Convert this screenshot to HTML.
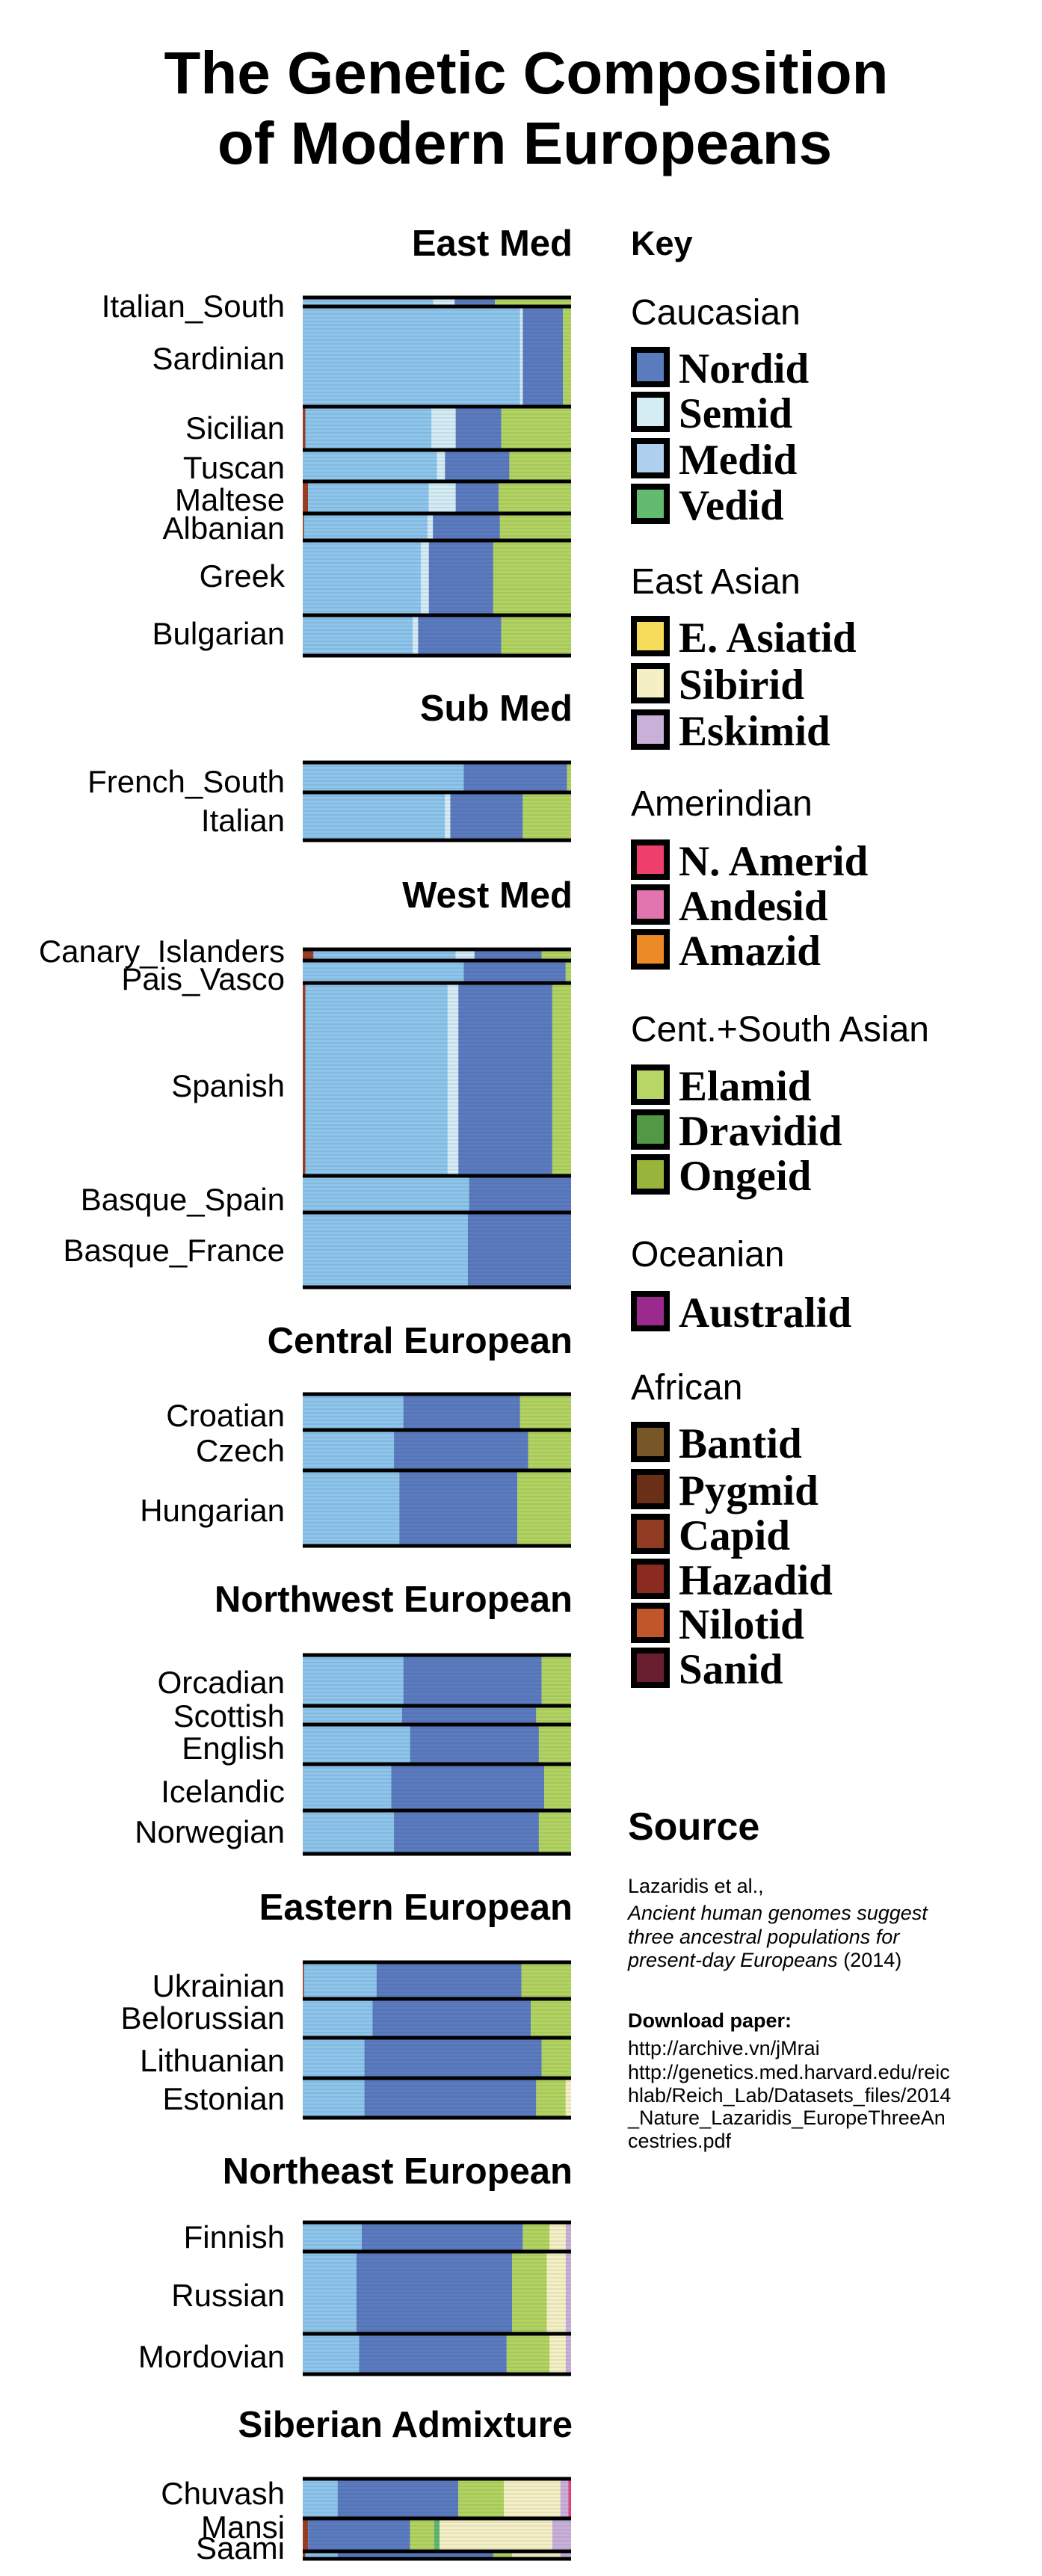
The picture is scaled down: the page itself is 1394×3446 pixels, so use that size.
<!DOCTYPE html>
<html><head><meta charset="utf-8">
<style>
html,body{margin:0;padding:0;background:#fff;}
svg{display:block;}
.t{font-family:"Liberation Sans",sans-serif;}
.k{font-family:"Liberation Serif",serif;font-weight:bold;font-size:57px;}
</style></head>
<body>
<svg id="chart" width="1394" height="3446" viewBox="0 0 1394 3446" xmlns="http://www.w3.org/2000/svg">
<rect x="0" y="0" width="1394" height="3446" fill="#fff"/>
<g class="t" font-weight="bold" font-size="80" text-anchor="middle">
<text x="704" y="125">The Genetic Composition</text>
<text x="702" y="219">of Modern Europeans</text>
</g>
<g class="t" font-weight="bold" font-size="49" text-anchor="end">
<text x="766" y="342">East Med</text>
<text x="766" y="964">Sub Med</text>
<text x="766" y="1214">West Med</text>
<text x="766" y="1810">Central European</text>
<text x="766" y="2156">Northwest European</text>
<text x="766" y="2568">Eastern European</text>
<text x="766" y="2921">Northeast European</text>
<text x="766" y="3260">Siberian Admixture</text>
</g>
<g id="bars"></g>
<g id="labels" class="t" font-size="42" text-anchor="end"></g>

<g>
<text class="t" x="844" y="341" font-weight="bold" font-size="45">Key</text>
<g class="t" font-size="48">
<text x="844" y="434">Caucasian</text>
<text x="844" y="794">East Asian</text>
<text x="844" y="1091">Amerindian</text>
<text x="844" y="1393">Cent.+South Asian</text>
<text x="844" y="1694">Oceanian</text>
<text x="844" y="1872">African</text>
</g>
<g id="legend-entries"></g>
</g>

<g class="t">
<text x="840" y="2461" font-weight="bold" font-size="52">Source</text>
<g font-size="27">
<text x="840" y="2532">Lazaridis et al.,</text>
<text x="840" y="2568" font-style="italic">Ancient human genomes suggest</text>
<text x="840" y="2600" font-style="italic">three ancestral populations for</text>
<text x="840" y="2631"><tspan font-style="italic">present-day Europeans</tspan> (2014)</text>
<text x="840" y="2712" font-weight="bold">Download paper:</text>
<text x="840" y="2749">http://archive.vn/jMrai</text>
<text x="840" y="2781">http://genetics.med.harvard.edu/reic</text>
<text x="840" y="2812">hlab/Reich_Lab/Datasets_files/2014</text>
<text x="840" y="2842">_Nature_Lazaridis_EuropeThreeAn</text>
<text x="840" y="2873">cestries.pdf</text>
</g>
</g>
</svg>
<script>
// ---- data ----
const popNames = ["Italian_South","Sardinian","Sicilian","Tuscan","Maltese","Albanian","Greek","Bulgarian",
"French_South","Italian","Canary_Islanders","Pais_Vasco","Spanish","Basque_Spain","Basque_France",
"Croatian","Czech","Hungarian","Orcadian","Scottish","English","Icelandic","Norwegian",
"Ukrainian","Belorussian","Lithuanian","Estonian","Finnish","Russian","Mordovian","Chuvash","Mansi","Saami"];
const african = [0,0,0.01,0,0.02,0.005,0,0, 0,0,0.04,0,0.01,0,0, 0,0,0,0,0,0,0,0, 0.005,0,0,0,0,0,0,0,0.02,0.01];
const medid   = [0.486,0.81,0.47,0.5,0.45,0.46,0.44,0.41, 0.6,0.53,0.53,0.6,0.53,0.62,0.615, 0.375,0.34,0.36,0.375,0.37,0.4,0.33,0.34, 0.27,0.26,0.23,0.23,0.22,0.2,0.21,0.13,0,0.12];
const semid   = [0.08,0.01,0.09,0.03,0.1,0.02,0.03,0.02, 0,0.02,0.07,0,0.04,0,0, 0,0,0,0,0,0,0,0, 0,0,0,0,0,0,0,0,0,0];
const nordid  = [0.15,0.15,0.17,0.24,0.16,0.25,0.24,0.31, 0.385,0.27,0.25,0.38,0.35,0.38,0.385, 0.435,0.5,0.44,0.515,0.5,0.48,0.57,0.54, 0.54,0.59,0.66,0.64,0.6,0.58,0.55,0.45,0.38,0.58];
const elamid  = [0.284,0.03,0.26,0.23,0.27,0.265,0.29,0.26, 0.015,0.18,0.11,0.02,0.07,0,0, 0.19,0.16,0.2,0.11,0.13,0.12,0.1,0.12, 0.185,0.15,0.11,0.11,0.1,0.13,0.16,0.17,0.09,0.07];
const vedid   = [0,0,0,0,0,0,0,0, 0,0,0,0,0,0,0, 0,0,0,0,0,0,0,0, 0,0,0,0,0,0,0,0,0.02,0];
const sibirid = [0,0,0,0,0,0,0,0, 0,0,0,0,0,0,0, 0,0,0,0,0,0,0,0, 0,0,0,0.02,0.06,0.07,0.06,0.21,0.42,0.18];
const eskimid = [0,0,0,0,0,0,0,0, 0,0,0,0,0,0,0, 0,0,0,0,0,0,0,0, 0,0,0,0,0.02,0.02,0.02,0.03,0.07,0.04];
const amerind = [0,0,0,0,0,0,0,0, 0,0,0,0,0,0,0, 0,0,0,0,0,0,0,0, 0,0,0,0,0,0,0,0.01,0,0];
// ---- layout (pixel rows of each population block, label baselines) ----
const layTop = [398,410,544,602,644,687,723,823, 1020,1060, 1270,1285,1315,1573,1622, 1865,1913,1967, 2214,2282,2307,2360,2422, 2625,2674,2726,2780, 2973,3012,3122, 3316,3369,3413];
const layBot = [410,544,602,644,687,723,823,877, 1060,1124, 1285,1315,1573,1622,1722, 1913,1967,2068, 2282,2307,2360,2422,2480, 2674,2726,2780,2833, 3012,3122,3176, 3369,3413,3423];
const layLab = [424,494,587,640,683,721,785,862, 1060,1112, 1287,1324,1467,1619,1687, 1908,1955,2035, 2265,2310,2353,2411,2465, 2671,2714,2771,2822, 3007,3085,3167, 3350,3395,3423];

const X0 = 405, X1 = 764;
const xs = v => X0 + v * (X1 - X0);
const NS = "http://www.w3.org/2000/svg";
const series = [
  ["african", african, "#9a3d22"],
  ["medid", medid, "#8ec5ea"],
  ["semid", semid, "#d4ecf4"],
  ["nordid", nordid, "#5b7bbf"],
  ["elamid", elamid, "#b2d35f"],
  ["vedid", vedid, "#5fb870"],
  ["sibirid", sibirid, "#f5f0c4"],
  ["eskimid", eskimid, "#c8b0d8"],
  ["amerind", amerind, "#e6407a"]
];
const bars = document.getElementById("bars");
const labels = document.getElementById("labels");
popNames.forEach((name, i) => {
  const g = document.createElementNS(NS, "g");
  
  
  const y0 = layTop[i], y1 = layBot[i];
  let total = 0;
  series.forEach(s => total += s[1][i]);
  let acc = 0;
  series.forEach((s, j) => {
    const v = s[1][i] / total;
    const isLast = j === series.length - 1;
    if (v <= 0 && !isLast) return;
    const r = document.createElementNS(NS, "rect");
    
    
    r.setAttribute("x", xs(acc));
    r.setAttribute("y", y0);
    r.setAttribute("width", Math.max(0, xs(acc + v) - xs(acc)));
    r.setAttribute("height", y1 - y0);
    r.setAttribute("fill", s[2]);
    g.appendChild(r);
    acc += v;
  });
  // thin row separators
  for (let y = y0 + 5; y < y1 - 2; y += 5) {
    const l = document.createElementNS(NS, "line");
    
    
    l.setAttribute("x1", X0); l.setAttribute("x2", X1);
    l.setAttribute("y1", y); l.setAttribute("y2", y);
    l.setAttribute("stroke", "rgba(30,50,90,0.22)");
    l.setAttribute("stroke-width", "0.7");
    g.appendChild(l);
  }
  bars.appendChild(g);
  [y0, y1].forEach(yy => {
    const b = document.createElementNS(NS, "rect");
    
    
    b.setAttribute("x", X0); b.setAttribute("y", yy - 2.5);
    b.setAttribute("width", X1 - X0); b.setAttribute("height", 5);
    b.setAttribute("fill", "#000");
    bars.appendChild(b);
  });
  const t = document.createElementNS(NS, "text");
  
  
  t.setAttribute("x", 381);
  t.setAttribute("y", layLab[i]);
  t.textContent = name;
  labels.appendChild(t);
});

// legend entries
const legNames = ["Nordid","Semid","Medid","Vedid","E. Asiatid","Sibirid","Eskimid","N. Amerid","Andesid","Amazid","Elamid","Dravidid","Ongeid","Australid","Bantid","Pygmid","Capid","Hazadid","Nilotid","Sanid"];
const legColors = ["#5b7bbf","#d4ecf4","#aed0ee","#62bb6e","#f7dc5c","#f5f0c4","#c8b0d8","#ee3e6c","#e274b0","#ec8a28","#b8d666","#529845","#98b43a","#9a2a8e","#775628","#6b2e16","#913c22","#8a2a20","#c0562a","#6a1f30"];
const legTop = [464,524,586,647,824,887,949,1123,1183,1243,1424,1484,1544,1727,1902,1965,2025,2085,2144,2204];
const le = document.getElementById("legend-entries");
legNames.forEach((n, i) => {
  const r = document.createElementNS(NS, "rect");
  
  
  r.setAttribute("x", 848); r.setAttribute("y", legTop[i] + 4);
  r.setAttribute("width", 44); r.setAttribute("height", 46);
  r.setAttribute("fill", legColors[i]);
  r.setAttribute("stroke", "#000"); r.setAttribute("stroke-width", 8);
  le.appendChild(r);
  const t = document.createElementNS(NS, "text");
  
  
  t.setAttribute("class", "k");
  t.setAttribute("x", 908); t.setAttribute("y", legTop[i] + 48);
  t.textContent = n;
  le.appendChild(t);
});
</script>
</body></html>
